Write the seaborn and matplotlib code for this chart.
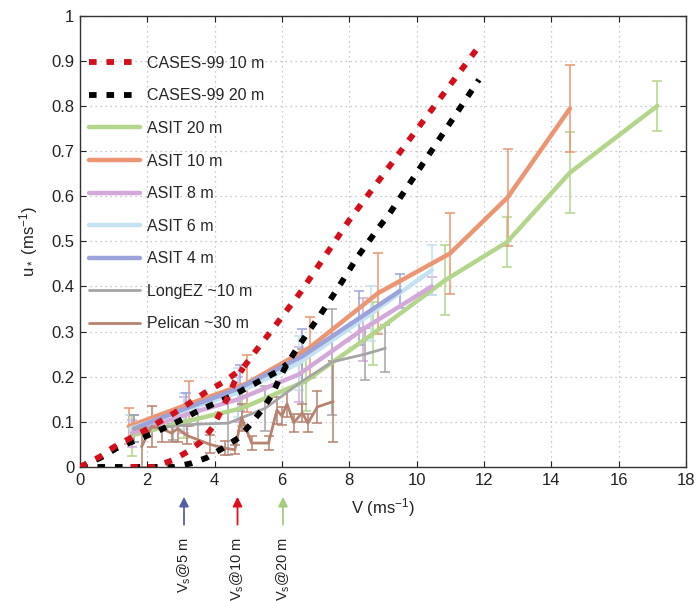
import numpy as np
import pandas as pd
import matplotlib
matplotlib.use("Agg")
import matplotlib.pyplot as plt
from matplotlib.lines import Line2D
import seaborn as sns

# ---------------- data ----------------
cases10_up_v = [0, 0.6, 1.0, 1.5, 2.0, 2.45, 2.9, 3.3, 3.7, 4.3, 4.85, 5.2, 5.85, 6.55, 8.0, 11.85]
cases10_up_u = [0, 0.023, 0.044, 0.064, 0.084, 0.104, 0.124, 0.144, 0.164, 0.19, 0.22, 0.255, 0.318, 0.387, 0.547, 0.932]
cases10_lo_v = [1.5, 2.2, 2.75, 3.2, 3.6, 3.95, 4.3, 4.6, 4.85]
cases10_lo_u = [0, 0.0, 0.015, 0.034, 0.056, 0.089, 0.14, 0.19, 0.22]

cases20_up_v = [0, 0.6, 1.1, 1.55, 2.05, 2.5, 3.0, 3.45, 3.95, 4.45, 4.95, 5.4, 5.9, 6.15]
cases20_up_u = [0, 0.02, 0.042, 0.056, 0.071, 0.086, 0.104, 0.122, 0.139, 0.155, 0.175, 0.193, 0.213, 0.228]
cases20_lo_v = [0, 2.8, 3.3, 3.75, 4.25, 4.7, 5.05, 5.4, 5.7, 5.9, 6.15, 6.45, 6.75, 7.1, 7.65, 8.25, 8.85, 9.2, 11.85]
cases20_lo_u = [0, 0, 0.008, 0.02, 0.042, 0.064, 0.093, 0.126, 0.159, 0.192, 0.228, 0.263, 0.296, 0.333, 0.395, 0.466, 0.528, 0.562, 0.858]

asit20_v = [1.55, 3.1, 4.8, 6.7, 8.7, 10.85, 12.68, 14.55, 17.15]
asit20_u = [0.07, 0.10, 0.13, 0.19, 0.295, 0.414, 0.498, 0.652, 0.80]
asit20_e = [0.045, 0.035, 0.04, 0.065, 0.07, 0.077, 0.055, 0.09, 0.055]

asit10_v = [1.45, 3.25, 4.95, 6.83, 8.85, 10.99, 12.7, 14.55]
asit10_u = [0.09, 0.14, 0.185, 0.265, 0.385, 0.473, 0.597, 0.794]
asit10_e = [0.04, 0.05, 0.063, 0.068, 0.09, 0.09, 0.108, 0.097]

asit8_v = [1.55, 3.1, 4.7, 6.5, 8.4, 10.45]
asit8_u = [0.075, 0.115, 0.15, 0.205, 0.305, 0.40]
asit8_e = [0.03, 0.04, 0.05, 0.06, 0.07, 0.02]

asit6_v = [1.5, 3.1, 4.7, 6.5, 8.65, 10.45]
asit6_u = [0.085, 0.125, 0.165, 0.23, 0.34, 0.436]
asit6_e = [0.03, 0.04, 0.055, 0.06, 0.06, 0.055]

asit4_v = [1.6, 3.15, 4.75, 6.6, 8.3, 9.5]
asit4_u = [0.085, 0.13, 0.175, 0.245, 0.33, 0.39]
asit4_e = [0.03, 0.035, 0.05, 0.06, 0.06, 0.038]

longez_v = [1.6, 2.75, 3.5, 4.4, 5.5, 6.6, 7.5, 8.47, 9.07]
longez_u = [0.085, 0.09, 0.095, 0.097, 0.13, 0.19, 0.233, 0.25, 0.263]
longez_e = [0.03, 0.03, 0.04, 0.07, 0.05, 0.072, 0.118, 0.057, 0.052]

pelican_v = [1.83, 2.13, 2.43, 2.72, 2.9, 3.17, 3.86, 4.3, 4.6, 4.8, 5.1, 5.6, 5.85, 6.0, 6.15, 6.35, 6.6, 6.77, 7.05, 7.52]
pelican_u = [0.045, 0.09, 0.085, 0.075, 0.085, 0.07, 0.05, 0.042, 0.038, 0.11, 0.053, 0.053, 0.126, 0.113, 0.14, 0.098, 0.12, 0.097, 0.133, 0.145]
pelican_e = [0.045, 0.045, 0.03, 0.02, 0.03, 0.02, 0.02, 0.015, 0.01, 0.03, 0.015, 0.015, 0.03, 0.02, 0.03, 0.02, 0.02, 0.02, 0.035, 0.09]

vs_positions = [3.09, 4.68, 6.03]
vs_labels = ["V$_\\mathregular{s}$@5 m", "V$_\\mathregular{s}$@10 m", "V$_\\mathregular{s}$@20 m"]
vs_colors = ["#5560a8", "#e0101a", "#a5cc7c"]

# ---------------- style ----------------
sns.set_style("ticks")
plt.rcParams["font.family"] = ["Liberation Sans", "DejaVu Sans"]
plt.rcParams["mathtext.fontset"] = "custom"
plt.rcParams["mathtext.rm"] = "Liberation Sans"
plt.rcParams["mathtext.it"] = "Liberation Sans:italic"

fig = plt.figure(figsize=(6.99, 6.01), dpi=100)
ax = fig.add_axes([0.1144, 0.223, 0.867, 0.751])

RED = "#d30f1c"
BLACK = "#000000"
GREEN = "#b3d68c"
ORANGE = "#eb9572"
PURPLE = "#d3a9da"
LBLUE = "#c4e2f0"
BLUE = "#9ba3da"
GREY = "#a5a5a5"
BROWN = "#b7826f"

dash = (0, (1.3, 1.7))

asit_series = [
    ("ASIT 20 m", asit20_v, asit20_u, asit20_e, GREEN),
    ("ASIT 10 m", asit10_v, asit10_u, asit10_e, ORANGE),
    ("ASIT 8 m", asit8_v, asit8_u, asit8_e, PURPLE),
    ("ASIT 6 m", asit6_v, asit6_u, asit6_e, LBLUE),
    ("ASIT 4 m", asit4_v, asit4_u, asit4_e, BLUE),
]

# error bars first (thin), then thick lines
for name, v, u, e, c in asit_series:
    ax.errorbar(v, u, yerr=e, fmt="none", ecolor=c, elinewidth=1.1, capsize=3.5, capthick=1.1, zorder=2)
ax.errorbar(longez_v, longez_u, yerr=longez_e, fmt="none", ecolor=GREY, elinewidth=1.1, capsize=3.5, capthick=1.1, zorder=2)
ax.errorbar(pelican_v, pelican_u, yerr=pelican_e, fmt="none", ecolor=BROWN, elinewidth=1.1, capsize=3.5, capthick=1.1, zorder=2)

for name, v, u, e, c in asit_series:
    sns.lineplot(x=v, y=u, ax=ax, color=c, lw=3.2, sort=False, zorder=3)
sns.lineplot(x=longez_v, y=longez_u, ax=ax, color=GREY, lw=2.0, sort=False, zorder=3)
sns.lineplot(x=pelican_v, y=pelican_u, ax=ax, color=BROWN, lw=2.0, sort=False, zorder=3)

for v, u in [(cases20_up_v, cases20_up_u), (cases20_lo_v, cases20_lo_u)]:
    sns.lineplot(x=v, y=u, ax=ax, color=BLACK, lw=4.2, sort=False, linestyle=dash, zorder=4)
for v, u in [(cases10_up_v, cases10_up_u), (cases10_lo_v, cases10_lo_u)]:
    sns.lineplot(x=v, y=u, ax=ax, color=RED, lw=4.2, sort=False, linestyle=dash, zorder=5)

ax.set_xlim(0, 18)
ax.set_ylim(0, 1)
ax.set_xticks(np.arange(0, 19, 2))
ax.set_yticks(np.arange(0, 1.01, 0.1))
ax.set_yticklabels(["0", "0.1", "0.2", "0.3", "0.4", "0.5", "0.6", "0.7", "0.8", "0.9", "1"])
ax.grid(True, linestyle=(0, (1, 3)), color="#b8b8b8", lw=0.9)
ax.tick_params(direction="in", length=4, width=0.8, labelsize=12, pad=4,
               top=True, right=True, colors="#222222", labelcolor="#222222")
for s in ax.spines.values():
    s.set_visible(True)
    s.set_color("#333333")
    s.set_linewidth(1.0)

ax.set_xlabel("V (ms$^{-1}$)", fontsize=12, labelpad=6, color="#222222")
ax.set_ylabel("u$_*$ (ms$^{-1}$)", fontsize=12, labelpad=8, color="#222222")

# legend
handles = [
    Line2D([], [], color=RED, lw=4.2, linestyle=dash),
    Line2D([], [], color=BLACK, lw=4.2, linestyle=dash),
    Line2D([], [], color=GREEN, lw=3.2),
    Line2D([], [], color=ORANGE, lw=3.2),
    Line2D([], [], color=PURPLE, lw=3.2),
    Line2D([], [], color=LBLUE, lw=3.2),
    Line2D([], [], color=BLUE, lw=3.2),
    Line2D([], [], color=GREY, lw=2.0),
    Line2D([], [], color=BROWN, lw=2.0),
]
labels = ["CASES-99 10 m", "CASES-99 20 m", "ASIT 20 m", "ASIT 10 m", "ASIT 8 m",
          "ASIT 6 m", "ASIT 4 m", "LongEZ ~10 m", "Pelican ~30 m"]
ax.legend(handles, labels, loc="upper left", bbox_to_anchor=(0.005, 0.925), frameon=False,
          fontsize=11.5, handlelength=3.2, handletextpad=0.4, labelspacing=1.1, borderaxespad=0)

# Vs arrows and labels under the axis
for x, lab, c in zip(vs_positions, vs_labels, vs_colors):
    ax.annotate("", xy=(x, -0.06), xytext=(x, -0.134), xycoords="data",
                arrowprops=dict(arrowstyle="-|>", color=c, lw=1.3, mutation_scale=14),
                annotation_clip=False)
    ax.text(x, -0.155, lab, rotation=90, ha="center", va="top", fontsize=10.5,
            color="#222222", clip_on=False)

fig.savefig("out.png", dpi=100)
